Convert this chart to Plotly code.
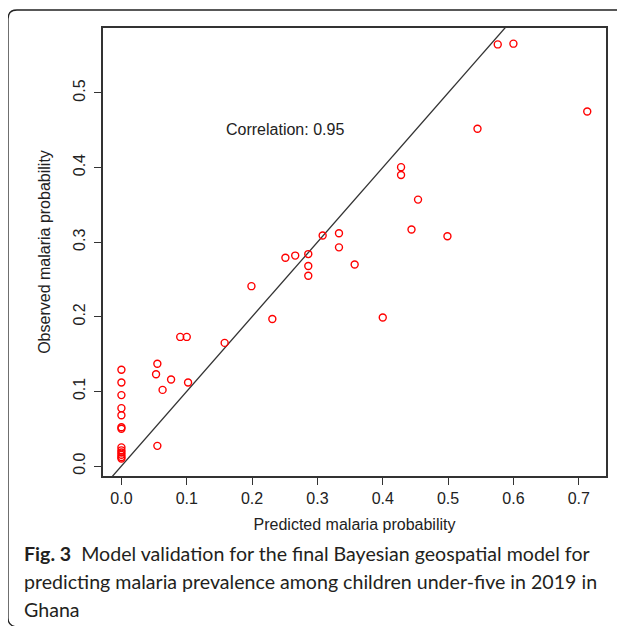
import plotly.graph_objects as go

# ---- data ----
predicted = [0, 0, 0, 0, 0, 0, 0, 0, 0, 0, 0, 0, 0,
             0.055, 0.053, 0.076, 0.063, 0.102, 0.055, 0.090, 0.100, 0.158,
             0.199, 0.231, 0.251, 0.266, 0.286, 0.286, 0.286, 0.308, 0.333, 0.333,
             0.357, 0.400, 0.428, 0.428, 0.454, 0.444, 0.499,
             0.576, 0.600, 0.545, 0.713]
observed = [0.129, 0.112, 0.095, 0.0775, 0.068, 0.052, 0.050, 0.025, 0.021, 0.018, 0.015, 0.012, 0.010,
            0.137, 0.123, 0.116, 0.102, 0.112, 0.027, 0.173, 0.173, 0.165,
            0.241, 0.197, 0.279, 0.282, 0.284, 0.268, 0.255, 0.309, 0.312, 0.293,
            0.270, 0.199, 0.4005, 0.390, 0.357, 0.317, 0.308,
            0.565, 0.566, 0.452, 0.475]
x_ticks = [0.0, 0.1, 0.2, 0.3, 0.4, 0.5, 0.6, 0.7]
y_ticks = [0.0, 0.1, 0.2, 0.3, 0.4, 0.5]
diag = [-0.1, 0.8]
corr_label = "Correlation: 0.95"
caption_lines = ["<b>Fig. 3</b>  Model validation for the final Bayesian geospatial model for",
                 "predicting malaria prevalence among children under-five in 2019 in",
                 "Ghana"]

# page body has an 8px margin, so the figure is drawn 8px in from the corner
OFF = 8
SW, SH = 625, 626                 # screen size
W, H = SW - OFF, SH - OFF         # figure size
L, R, T, B = 103, 606, 28, 476    # plot area in screen pixels


def px(x):
    return (x - L) / (R - L)


def py(y):
    return (B - y) / (B - T)


fig = go.Figure()
fig.add_trace(go.Scatter(x=diag, y=diag, mode="lines",
                         line=dict(color="#333333", width=1.3), hoverinfo="skip"))
fig.add_trace(go.Scatter(x=predicted, y=observed, mode="markers",
                         marker=dict(symbol="circle-open", size=7, color="#ff0000",
                                     line=dict(width=1.4, color="#ff0000"))))

axis_font = dict(family="Liberation Sans, Arial", size=16, color="#222222")
fig.update_xaxes(range=[-0.0282, 0.7417], tickvals=x_ticks,
                 ticktext=[f"{v:.1f}" for v in x_ticks],
                 ticks="outside", ticklen=7, tickwidth=1.2, tickcolor="#333333",
                 showline=True, mirror=True, linecolor="#333333", linewidth=1.5,
                 showgrid=False, zeroline=False, tickfont=axis_font,
                 title=dict(text="Predicted malaria probability", font=axis_font, standoff=13))
fig.update_yaxes(range=[-0.0134, 0.587], tickvals=y_ticks,
                 ticktext=[f"{v:.1f}" for v in y_ticks], tickangle=-90,
                 ticks="outside", ticklen=7, tickwidth=1.2, tickcolor="#333333",
                 showline=True, mirror=True, linecolor="#333333", linewidth=1.5,
                 showgrid=False, zeroline=False, tickfont=axis_font,
                 ticklabelstandoff=3,
                 title=dict(text="Observed malaria probability", font=axis_font, standoff=16))

annotations = [dict(x=0.25, y=0.4506, xref="x", yref="y", text=corr_label, showarrow=False,
                    font=axis_font, xanchor="center", yanchor="middle")]
cap_font = dict(family="Lato", size=19.6, color="#231f20")
for i, line in enumerate(caption_lines):
    annotations.append(dict(x=px(22), y=py(553 + 28 * i), xref="paper", yref="paper",
                            text=line, showarrow=False, font=cap_font,
                            xanchor="left", yanchor="middle", align="left"))

# outer rounded frame (top/left edges, continues past canvas)
r = 9
x0, y0 = 8, 10
x1 = 640
path = (f"M {px(x1)} {py(y0)} L {px(x0 + r)} {py(y0)} "
        f"Q {px(x0)} {py(y0)} {px(x0)} {py(y0 + r)} "
        f"L {px(x0)} {py(618)} Q {px(x0)} {py(626)} {px(x0 + r)} {py(627)}")
shapes = [dict(type="path", path=path, xref="paper", yref="paper",
               line=dict(color="#222222", width=1.3))]

fig.update_layout(width=W, height=H,
                  margin=dict(l=L - OFF, r=SW - R, t=T - OFF, b=SH - B),
                  plot_bgcolor="white", paper_bgcolor="white", showlegend=False,
                  annotations=annotations, shapes=shapes)
fig.write_html("out.html")
